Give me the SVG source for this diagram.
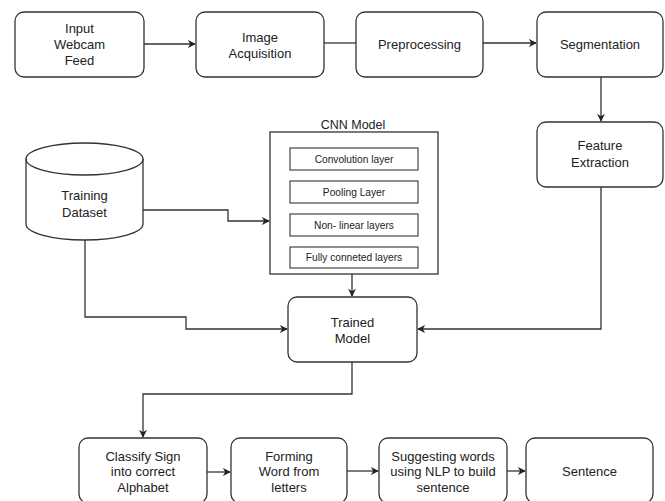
<svg xmlns="http://www.w3.org/2000/svg" width="665" height="501" viewBox="0 0 665 501">
<style>
.box{fill:#fff;stroke:#333;stroke-width:1.3}
.layer{fill:#fff;stroke:#333;stroke-width:1.1}
.t{font-family:"Liberation Sans",Arial,sans-serif;font-size:13px;fill:#222;text-anchor:middle;dominant-baseline:central}
.s{font-family:"Liberation Sans",Arial,sans-serif;font-size:10.2px;fill:#222;text-anchor:middle;dominant-baseline:central}
.c{fill:none;stroke:#333;stroke-width:1.3}
</style>
<defs>
<marker id="ah" viewBox="0 0 10 10" refX="9" refY="5" markerWidth="8" markerHeight="8" markerUnits="userSpaceOnUse" orient="auto">
<path d="M0,0 L10,5 L0,10 L3,5 Z" fill="#222"/>
</marker>
</defs>
<rect width="665" height="501" fill="#fff"/>
<g id="connectors">
<path class="c" d="M144,44 H195" marker-end="url(#ah)"/>
<path class="c" d="M324,43 H356"/>
<path class="c" d="M483,43 H536" marker-end="url(#ah)"/>
<path class="c" d="M601,77 V121" marker-end="url(#ah)"/>
<path class="c" d="M601,187 V329 H418" marker-end="url(#ah)"/>
<path class="c" d="M143,210 H228 V221 H269" marker-end="url(#ah)"/>
<path class="c" d="M85,240 V317 H186 V329 H287" marker-end="url(#ah)"/>
<path class="c" d="M352,274 V296" marker-end="url(#ah)"/>
<path class="c" d="M352,362 V394 H143 V437" marker-end="url(#ah)"/>
<path class="c" d="M207,472 H230" marker-end="url(#ah)"/>
<path class="c" d="M347,471 H378" marker-end="url(#ah)"/>
<path class="c" d="M507,471 H525" marker-end="url(#ah)"/>
</g>
<g id="input">
<rect class="box" x="15" y="12" width="129" height="65" rx="9"/>
<text class="t" x="79.5" y="28">Input</text>
<text class="t" x="79.5" y="44">Webcam</text>
<text class="t" x="79.5" y="60">Feed</text>
</g>
<g id="acquisition">
<rect class="box" x="196" y="12" width="128" height="65" rx="9"/>
<text class="t" x="260" y="37">Image</text>
<text class="t" x="260" y="53">Acquisition</text>
</g>
<g id="preprocessing">
<rect class="box" x="356" y="12" width="127" height="65" rx="9"/>
<text class="t" x="419.5" y="44">Preprocessing</text>
</g>
<g id="segmentation">
<rect class="box" x="537" y="12" width="126" height="65" rx="9"/>
<text class="t" x="600" y="44">Segmentation</text>
</g>
<g id="feature">
<rect class="box" x="537" y="122" width="126" height="65" rx="9"/>
<text class="t" x="600" y="145">Feature</text>
<text class="t" x="600" y="162">Extraction</text>
</g>
<g id="dataset">
<path class="box" d="M26,159 A58.5,16 0 0 1 143,159 V224 A58.5,16 0 0 1 26,224 Z"/>
<path class="c" d="M26,159 A58.5,16 0 0 0 143,159"/>
<text class="t" x="84.5" y="195">Training</text>
<text class="t" x="84.5" y="212">Dataset</text>
</g>
<g id="cnn">
<text class="t" x="353" y="125" style="font-size:12.5px">CNN Model</text>
<rect class="box" x="270" y="132" width="168" height="142"/>
<rect class="layer" x="290" y="148" width="128" height="22"/>
<text class="s" x="354" y="159">Convolution layer</text>
<rect class="layer" x="290" y="181" width="128" height="22"/>
<text class="s" x="354" y="192">Pooling Layer</text>
<rect class="layer" x="290" y="214" width="128" height="22"/>
<text class="s" x="354" y="225">Non- linear layers</text>
<rect class="layer" x="290" y="247" width="128" height="21"/>
<text class="s" x="354" y="257.5">Fully conneted layers</text>
</g>
<g id="trained">
<rect class="box" x="288" y="297" width="129" height="65" rx="9"/>
<text class="t" x="352.5" y="322">Trained</text>
<text class="t" x="352.5" y="338">Model</text>
</g>
<g id="classify">
<rect class="box" x="79" y="438" width="128" height="65" rx="9"/>
<text class="t" x="143" y="456">Classify Sign</text>
<text class="t" x="143" y="471">into correct</text>
<text class="t" x="143" y="487">Alphabet</text>
</g>
<g id="forming">
<rect class="box" x="231" y="438" width="116" height="65" rx="9"/>
<text class="t" x="289" y="456">Forming</text>
<text class="t" x="289" y="471">Word from</text>
<text class="t" x="289" y="487">letters</text>
</g>
<g id="suggesting">
<rect class="box" x="379" y="438" width="128" height="65" rx="9"/>
<text class="t" x="443" y="456">Suggesting words</text>
<text class="t" x="443" y="471">using NLP to build</text>
<text class="t" x="443" y="487">sentence</text>
</g>
<g id="sentence">
<rect class="box" x="526" y="438" width="127" height="65" rx="9"/>
<text class="t" x="589.5" y="471">Sentence</text>
</g>
</svg>
